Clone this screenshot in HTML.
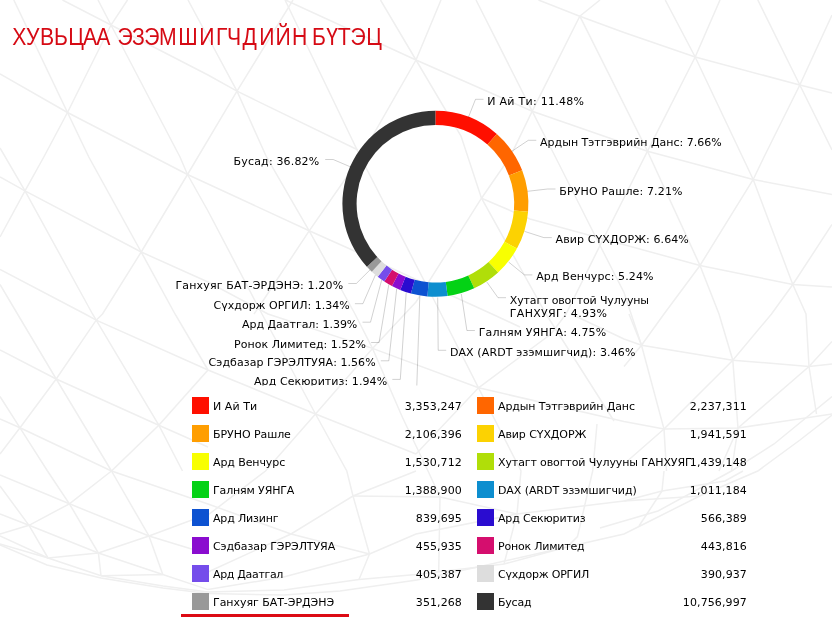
<!DOCTYPE html>
<html lang="mn"><head><meta charset="utf-8"><title>ХУВЬЦАА ЭЗЭМШИГЧДИЙН БҮТЭЦ</title>
<style>
html,body{margin:0;padding:0;background:#fff;}
body{width:832px;height:630px;overflow:hidden;position:relative;font-family:"DejaVu Sans","Liberation Sans",sans-serif;}
svg{position:absolute;left:0;top:0;}
svg text.ttl{font-family:"Liberation Sans",sans-serif;font-size:23.75px;fill:#d60a14;}
svg text{font-family:"DejaVu Sans","Liberation Sans",sans-serif;font-size:11px;fill:#000;}
.ticks polyline{fill:none;stroke:#000;stroke-opacity:0.18;stroke-width:1;}
.uline{position:absolute;left:181px;top:614px;width:168px;height:3px;background:#dc0a14;}
</style></head><body>
<svg width="832" height="630" viewBox="0 0 832 630">
<g class="bg" fill="none" stroke="#efefef" stroke-width="1.5">
<polyline points="13.8,0.0 67.5,112.5 88.8,157.0 141.2,252.0 175.0,314.0 208.0,370.0"/>
<polyline points="0.0,73.8 67.5,112.5 187.5,174.5 309.2,230.8 350.0,249.0 416.0,279.5 492.0,314.0 520.0,327.0"/>
<polyline points="127.5,0.0 111.0,25.0 67.5,112.5 43.8,157.0 25.0,190.8 0.0,237.0"/>
<polyline points="62.5,0.0 111.0,25.0 208.0,75.0 237.0,91.2 358.0,150.0"/>
<polyline points="98.0,0.0 111.0,25.0 180.0,157.0 187.5,174.5 208.0,211.0 262.0,314.0 315.5,414.0 346.8,471.0 353.0,496.0 369.5,554.0 359.0,579.5"/>
<polyline points="188.0,0.0 237.0,91.2 266.5,157.0 309.2,230.8 355.0,314.0 372.5,348.4 402.5,417.5 428.0,471.0 440.0,497.0 438.7,572.0"/>
<polyline points="293.0,0.0 237.0,91.2 187.5,174.5 141.2,252.0 102.5,314.0 96.2,320.2 56.2,379.0 20.0,427.8 0.0,454.0"/>
<polyline points="285.0,0.0 360.5,157.0 432.0,296.0 478.5,387.8 521.0,471.0 517.0,514.0 504.0,564.0"/>
<polyline points="285.5,0.0 416.0,60.0 532.2,111.2 647.5,151.2 753.2,179.5 832.0,194.5"/>
<polyline points="380.5,0.0 416.0,60.0 461.0,136.0 481.5,198.2 546.0,314.0 614.0,421.0"/>
<polyline points="441.0,0.0 416.0,60.0 360.5,157.0 309.2,230.8 265.5,297.0 254.0,314.0"/>
<polyline points="476.0,0.0 532.2,111.2 555.4,157.0 600.0,245.5 624.0,292.5 641.5,345.2"/>
<polyline points="600.0,0.0 579.8,16.2 532.2,111.2 510.0,157.0 481.5,198.2 416.0,302.0 372.5,348.4 315.5,414.0 265.5,471.0 208.0,515.0"/>
<polyline points="579.8,16.2 647.5,151.2 700.0,265.5 719.0,314.0 732.8,360.2 738.0,428.0 731.5,471.0"/>
<polyline points="538.5,0.0 579.8,16.2 624.0,32.5 695.2,57.0 799.8,85.0 832.0,93.0"/>
<polyline points="665.2,0.0 695.2,57.0 753.2,179.5 792.8,284.5 806.0,314.0 809.0,366.5 816.5,414.0"/>
<polyline points="720.0,0.0 695.2,57.0 647.5,151.2 600.0,245.5 566.0,314.0 551.0,334.0 478.5,387.8 416.0,454.0"/>
<polyline points="757.8,0.0 799.8,85.0 832.0,150.0"/>
<polyline points="832.0,15.0 799.8,85.0 764.0,157.0 753.2,179.5 700.0,265.5 664.0,314.0 641.5,345.2 624.0,366.5"/>
<polyline points="481.5,198.2 530.0,219.0 700.0,265.5 792.8,284.5 832.0,287.0"/>
<polyline points="832.0,224.5 792.8,284.5 771.5,314.0 732.8,360.2 664.0,429.0 624.0,464.0"/>
<polyline points="0.0,177.0 25.0,190.8 141.2,252.0 208.0,282.0 268.0,314.0 372.5,348.4"/>
<polyline points="0.0,148.0 25.0,190.8 92.5,314.0 96.2,320.2 158.8,425.2 182.5,471.0"/>
<polyline points="0.0,269.5 85.0,314.0 96.2,320.2 208.0,370.0 315.5,414.0 416.0,454.0"/>
<polyline points="0.0,284.5 17.5,314.0 56.2,379.0 111.5,471.0"/>
<polyline points="0.0,350.0 56.2,379.0 158.8,425.2 208.0,447.0"/>
<polyline points="208.0,370.0 158.8,425.2 111.5,471.0"/>
<polyline points="0.0,396.5 20.0,427.8 47.5,471.0"/>
<polyline points="0.0,419.0 20.0,427.8 111.5,471.0"/>
<polyline points="372.5,348.4 478.5,387.8 624.0,421.5 664.0,429.0 738.0,428.0 832.0,414.0"/>
<polyline points="571.0,314.0 624.0,339.0 641.5,345.2 732.8,360.2 809.0,366.5 832.0,364.0"/>
<polyline points="629.0,314.0 641.5,345.2 664.0,429.0 666.5,471.0"/>
<polyline points="832.0,341.5 809.0,366.5 738.0,428.0 719.0,471.0"/>
<polyline points="832.0,396.5 774.0,444.0 731.5,471.0 658.0,511.0 600.0,528.0"/>
<polyline points="111.5,471.0 69.4,503.8 29.0,525.3 0.0,534.0"/>
<polyline points="111.5,471.0 149.0,536.0 162.8,574.5"/>
<polyline points="47.5,471.0 69.4,503.8 98.4,553.0 101.0,575.7"/>
<polyline points="0.0,475.0 69.4,503.8 149.0,536.0 208.0,554.0"/>
<polyline points="0.0,486.0 29.0,525.3 48.0,558.0"/>
<polyline points="0.0,514.0 29.0,525.3 98.4,553.0 162.8,574.5"/>
<polyline points="149.0,536.0 98.4,553.0 48.0,558.0 0.0,544.0"/>
<polyline points="208.0,514.0 149.0,536.0"/>
<polyline points="111.5,471.0 208.0,504.0 291.0,534.0 369.5,554.0"/>
<polyline points="0.0,536.0 48.0,558.0 101.0,575.7 163.0,586.0 208.0,592.0 284.0,590.0 359.0,579.5 416.0,574.5 504.0,564.0 567.0,547.0 624.0,534.0 649.0,521.5 699.7,496.0 757.8,471.0 800.0,440.0 832.0,415.0"/>
<polyline points="0.0,545.0 47.0,565.0 101.0,578.0 163.0,588.0 208.0,593.5"/>
<polyline points="101.0,575.7 162.8,574.5 208.0,589.6 283.7,577.0 369.5,554.0 416.0,534.0 517.0,514.0 624.0,501.0 699.7,496.0"/>
<polyline points="208.0,593.5 284.0,595.0 340.0,591.0 417.0,580.0 478.0,567.0 567.0,547.0"/>
<polyline points="416.0,471.0 353.0,496.0 291.0,534.0 208.0,572.0"/>
<polyline points="353.0,496.0 440.0,497.0 517.0,514.0"/>
<polyline points="597.0,424.0 592.7,471.0 577.5,536.6 567.0,547.0"/>
<polyline points="664.0,471.0 662.0,491.0 639.0,526.0"/>
<polyline points="624.0,501.0 662.0,491.0 725.0,481.0 743.0,471.0"/>
</g>
<clipPath id="cc"><rect x="0" y="0" width="832" height="385.4"/></clipPath>
<g clip-path="url(#cc)">
<g class="slices">
<path d="M435.40,110.80A93.0,93.0 0 0 1 496.80,133.95L487.42,144.61A78.8,78.8 0 0 0 435.40,125.00Z" fill="#FF0F00"/>
<path d="M496.80,133.95A93.0,93.0 0 0 1 522.15,170.29L508.91,175.41A78.8,78.8 0 0 0 487.42,144.61Z" fill="#FF6600"/>
<path d="M522.15,170.29A93.0,93.0 0 0 1 528.07,211.63L513.92,210.44A78.8,78.8 0 0 0 508.91,175.41Z" fill="#FF9E01"/>
<path d="M528.07,211.63A93.0,93.0 0 0 1 516.93,248.54L504.48,241.71A78.8,78.8 0 0 0 513.92,210.44Z" fill="#FCD202"/>
<path d="M516.93,248.54A93.0,93.0 0 0 1 498.09,272.49L488.52,262.00A78.8,78.8 0 0 0 504.48,241.71Z" fill="#F8FF01"/>
<path d="M498.09,272.49A93.0,93.0 0 0 1 474.19,288.32L468.27,275.42A78.8,78.8 0 0 0 488.52,262.00Z" fill="#B0DE09"/>
<path d="M474.19,288.32A93.0,93.0 0 0 1 447.61,296.00L445.74,281.92A78.8,78.8 0 0 0 468.27,275.42Z" fill="#04D215"/>
<path d="M447.61,296.00A93.0,93.0 0 0 1 427.43,296.46L428.65,282.31A78.8,78.8 0 0 0 445.74,281.92Z" fill="#0D8ECF"/>
<path d="M427.43,296.46A93.0,93.0 0 0 1 410.92,293.52L414.66,279.82A78.8,78.8 0 0 0 428.65,282.31Z" fill="#0D52D1"/>
<path d="M410.92,293.52A93.0,93.0 0 0 1 400.20,289.88L405.57,276.74A78.8,78.8 0 0 0 414.66,279.82Z" fill="#2A0CD0"/>
<path d="M400.20,289.88A93.0,93.0 0 0 1 391.94,286.02L398.58,273.47A78.8,78.8 0 0 0 405.57,276.74Z" fill="#8A0CCF"/>
<path d="M391.94,286.02A93.0,93.0 0 0 1 384.31,281.51L392.11,269.64A78.8,78.8 0 0 0 398.58,273.47Z" fill="#D50E6E"/>
<path d="M384.31,281.51A93.0,93.0 0 0 1 377.73,276.76L386.54,265.62A78.8,78.8 0 0 0 392.11,269.64Z" fill="#754DEB"/>
<path d="M377.73,276.76A93.0,93.0 0 0 1 371.81,271.66L381.52,261.30A78.8,78.8 0 0 0 386.54,265.62Z" fill="#DDDDDD"/>
<path d="M371.81,271.66A93.0,93.0 0 0 1 366.87,266.67L377.33,257.07A78.8,78.8 0 0 0 381.52,261.30Z" fill="#999999"/>
<path d="M366.87,266.67A93.0,93.0 0 0 1 435.40,110.80L435.40,125.00A78.8,78.8 0 0 0 377.33,257.07Z" fill="#333333"/>
</g>
<g class="ticks">
<polyline points="468.3,117.5 475.5,99.3 483.5,99.3"/>
<polyline points="511.8,151.3 528.3,140.3 536.3,140.3"/>
<polyline points="527.6,191.3 547.5,189.0 555.5,189.0"/>
<polyline points="524.6,231.4 543.8,237.6 551.8,237.6"/>
<polyline points="508.6,262.0 524.4,274.9 532.4,274.9"/>
<polyline points="486.9,282.1 498.0,297.7 506.0,297.7"/>
<polyline points="461.3,293.9 466.9,330.5 474.9,330.5"/>
<polyline points="437.7,297.5 438.2,350.3 446.2,350.3"/>
<polyline points="419.8,296.1 416.8,386"/>
<polyline points="406.2,292.6 400.3,379.4 392.3,379.4"/>
<polyline points="396.7,288.8 388.8,360.8 380.8,360.8"/>
<polyline points="388.8,284.6 379.1,342.5 371.1,342.5"/>
<polyline points="381.7,279.9 370.5,322.2 362.5,322.2"/>
<polyline points="375.4,275.0 362.9,303.7 354.9,303.7"/>
<polyline points="370.0,269.9 356.3,283.5 348.3,283.5"/>
<polyline points="351.0,167.1 333.2,159.5 325.2,159.5"/>
</g>
<g class="labels">
<text x="487.3" y="104.8" text-anchor="start" textLength="96.6">И Ай Ти: 11.48%</text>
<text x="540.1" y="145.8" text-anchor="start" textLength="181.6">Ардын Тэтгэврийн Данс: 7.66%</text>
<text x="559.3" y="194.5" text-anchor="start" textLength="123.2">БРУНО Рашле: 7.21%</text>
<text x="555.6" y="243.1" text-anchor="start" textLength="133.2">Авир СҮХДОРЖ: 6.64%</text>
<text x="536.2" y="280.4" text-anchor="start" textLength="117.3">Ард Венчурс: 5.24%</text>
<text x="509.8" y="304.0" text-anchor="start" textLength="139.2">Хутагт овогтой Чулууны</text>
<text x="509.8" y="317.0" text-anchor="start" textLength="97.2">ГАНХУЯГ: 4.93%</text>
<text x="478.7" y="336.0" text-anchor="start" textLength="127.5">Галням УЯНГА: 4.75%</text>
<text x="450.0" y="355.8" text-anchor="start" textLength="185.4">DAX (ARDT эзэмшигчид): 3.46%</text>
<text x="387.1" y="384.9" text-anchor="end" textLength="133.1">Ард Секюритиз: 1.94%</text>
<text x="375.6" y="366.3" text-anchor="end" textLength="167.0">Сэдбазар ГЭРЭЛТУЯА: 1.56%</text>
<text x="365.9" y="348.0" text-anchor="end" textLength="131.8">Ронок Лимитед: 1.52%</text>
<text x="357.3" y="327.7" text-anchor="end" textLength="115.2">Ард Даатгал: 1.39%</text>
<text x="349.7" y="309.2" text-anchor="end" textLength="136.1">Сүхдорж ОРГИЛ: 1.34%</text>
<text x="343.1" y="289.0" text-anchor="end" textLength="167.6">Ганхуяг БАТ-ЭРДЭНЭ: 1.20%</text>
<text x="319.2" y="165.0" text-anchor="end" textLength="85.6">Бусад: 36.82%</text>
</g>
</g>
<g class="title"><text class="ttl" transform="scale(0.8926,1)" x="13.74 29.11 44.95 60.52 76.50 92.96 107.86 126.44 131.58 148.02 161.52 178.26 199.84 223.37 242.08 254.44 271.72 290.36 308.73 327.09 344.99 349.44 365.50 378.36 392.67 410.35" y="44.9">ХУВЬЦАА ЭЗЭМШИГЧДИЙН БҮТЭЦ</text></g>
<g class="legend">
<text x="213.0" y="410.0" text-anchor="start" textLength="44.2">И Ай Ти</text>
<text x="461.8" y="410.0" text-anchor="end" textLength="57.0">3,353,247</text>
<text x="498.0" y="410.0" text-anchor="start" textLength="137.0">Ардын Тэтгэврийн Данс</text>
<text x="746.8" y="410.0" text-anchor="end" textLength="57.0">2,237,311</text>
<text x="213.0" y="438.0" text-anchor="start" textLength="77.9">БРУНО Рашле</text>
<text x="461.8" y="438.0" text-anchor="end" textLength="57.0">2,106,396</text>
<text x="498.0" y="438.0" text-anchor="start" textLength="88.3">Авир СҮХДОРЖ</text>
<text x="746.8" y="438.0" text-anchor="end" textLength="57.0">1,941,591</text>
<text x="213.0" y="466.0" text-anchor="start" textLength="72.2">Ард Венчурс</text>
<text x="461.8" y="466.0" text-anchor="end" textLength="57.0">1,530,712</text>
<text x="498.0" y="466.0" text-anchor="start" textLength="193.7">Хутагт овогтой Чулууны ГАНХУЯГ</text>
<text x="746.8" y="466.0" text-anchor="end" textLength="57.0">1,439,148</text>
<text x="213.0" y="494.0" text-anchor="start" textLength="81.4">Галням УЯНГА</text>
<text x="461.8" y="494.0" text-anchor="end" textLength="57.0">1,388,900</text>
<text x="498.0" y="494.0" text-anchor="start" textLength="138.8">DAX (ARDT эзэмшигчид)</text>
<text x="746.8" y="494.0" text-anchor="end" textLength="57.0">1,011,184</text>
<text x="213.0" y="522.0" text-anchor="start" textLength="65.5">Ард Лизинг</text>
<text x="461.8" y="522.0" text-anchor="end" textLength="46.0">839,695</text>
<text x="498.0" y="522.0" text-anchor="start" textLength="87.5">Ард Секюритиз</text>
<text x="746.8" y="522.0" text-anchor="end" textLength="46.0">566,389</text>
<text x="213.0" y="550.0" text-anchor="start" textLength="122.2">Сэдбазар ГЭРЭЛТУЯА</text>
<text x="461.8" y="550.0" text-anchor="end" textLength="46.0">455,935</text>
<text x="498.0" y="550.0" text-anchor="start" textLength="86.6">Ронок Лимитед</text>
<text x="746.8" y="550.0" text-anchor="end" textLength="46.0">443,816</text>
<text x="213.0" y="578.0" text-anchor="start" textLength="70.4">Ард Даатгал</text>
<text x="461.8" y="578.0" text-anchor="end" textLength="46.0">405,387</text>
<text x="498.0" y="578.0" text-anchor="start" textLength="91.4">Сүхдорж ОРГИЛ</text>
<text x="746.8" y="578.0" text-anchor="end" textLength="46.0">390,937</text>
<text x="213.0" y="606.0" text-anchor="start" textLength="121.1">Ганхуяг БАТ-ЭРДЭНЭ</text>
<text x="461.8" y="606.0" text-anchor="end" textLength="46.0">351,268</text>
<text x="498.0" y="606.0" text-anchor="start" textLength="33.5">Бусад</text>
<text x="746.8" y="606.0" text-anchor="end" textLength="64.0">10,756,997</text>
<rect x="192" y="397" width="17" height="17" fill="#FF0F00"/>
<rect x="477" y="397" width="17" height="17" fill="#FF6600"/>
<rect x="192" y="425" width="17" height="17" fill="#FF9E01"/>
<rect x="477" y="425" width="17" height="17" fill="#FCD202"/>
<rect x="192" y="453" width="17" height="17" fill="#F8FF01"/>
<rect x="477" y="453" width="17" height="17" fill="#B0DE09"/>
<rect x="192" y="481" width="17" height="17" fill="#04D215"/>
<rect x="477" y="481" width="17" height="17" fill="#0D8ECF"/>
<rect x="192" y="509" width="17" height="17" fill="#0D52D1"/>
<rect x="477" y="509" width="17" height="17" fill="#2A0CD0"/>
<rect x="192" y="537" width="17" height="17" fill="#8A0CCF"/>
<rect x="477" y="537" width="17" height="17" fill="#D50E6E"/>
<rect x="192" y="565" width="17" height="17" fill="#754DEB"/>
<rect x="477" y="565" width="17" height="17" fill="#DDDDDD"/>
<rect x="192" y="593" width="17" height="17" fill="#999999"/>
<rect x="477" y="593" width="17" height="17" fill="#333333"/>
</g>
</svg>
<div class="uline"></div>
</body></html>
